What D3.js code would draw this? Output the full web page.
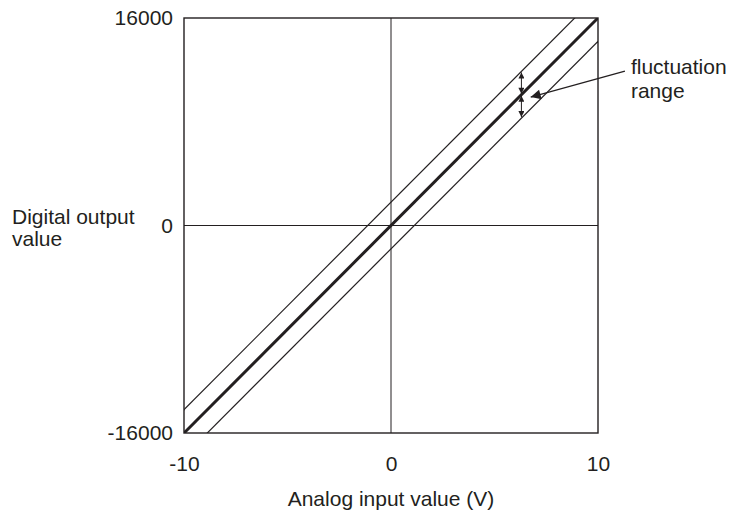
<!DOCTYPE html>
<html>
<head>
<meta charset="utf-8">
<script src="https://cdn.jsdelivr.net/npm/d3@7"></script>
<style>
  body { margin: 0; background: #fff; }
  text { font-family: "Liberation Sans", Arial, sans-serif; fill: #231f20; }
</style>
</head>
<body>
<div id="chart"></div>
<script>
// axis ranges and tick labels
var xDomain = [-10, 10];
var yDomain = [-16000, 16000];
var xTicks = [-10, 0, 10];
var yTicks = [-16000, 0, 16000];

// ideal conversion line: (V, digital)
var idealLine = [[-10, -16000], [10, 16000]];
// width of the fluctuation band (digital value)
var fluctuation = 1800;

// annotation: vertical double arrows at this input voltage
var arrowAt = 6.3;
// callout arrow from label to band (V, digital)
var callout = [[11.3, 11900], [6.75, 9900]];
var calloutLabel = ["fluctuation", "range"];

var W = 730, H = 520;
var margin = { top: 18, right: 132, bottom: 87, left: 184 },
    width = W - margin.left - margin.right,
    height = H - margin.top - margin.bottom;
var fontSize = "21px";

var svg = d3.select("#chart").append("svg")
    .attr("width", W).attr("height", H);

var defs = svg.append("defs");
defs.append("clipPath").attr("id", "clip")
    .append("rect").attr("width", width).attr("height", height);

function marker(id, w, h) {
    defs.append("marker")
        .attr("id", id)
        .attr("viewBox", "0 0 10 10")
        .attr("refX", 10).attr("refY", 5)
        .attr("markerWidth", w).attr("markerHeight", h)
        .attr("markerUnits", "userSpaceOnUse")
        .attr("orient", "auto-start-reverse")
        .append("path").attr("d", "M0,0 L10,5 L0,10 Z").attr("fill", "#231f20");
}
marker("small", 8, 6);
marker("big", 14, 10);

var g = svg.append("g")
    .attr("transform", "translate(" + margin.left + "," + margin.top + ")");

var x = d3.scaleLinear().domain(xDomain).range([0, width]);
var y = d3.scaleLinear().domain(yDomain).range([height, 0]);

// zero cross lines
g.append("line")
    .attr("x1", x(0)).attr("x2", x(0)).attr("y1", 0).attr("y2", height)
    .attr("stroke", "#231f20").attr("stroke-width", 1);
g.append("line")
    .attr("x1", 0).attr("x2", width).attr("y1", y(0)).attr("y2", y(0))
    .attr("stroke", "#231f20").attr("stroke-width", 1);

var line = d3.line()
    .x(function (d) { return x(d[0]); })
    .y(function (d) { return y(d[1]); });

var lines = g.append("g").attr("clip-path", "url(#clip)");

// fluctuation band edges
[fluctuation, -fluctuation].forEach(function (off) {
    // extend beyond the domain so the clip trims them at the frame
    var pts = idealLine.map(function (d) {
        var k = 2;
        return [d[0] * k, d[1] * k + off];
    });
    lines.append("path")
        .attr("d", line(pts))
        .attr("fill", "none")
        .attr("stroke", "#231f20")
        .attr("stroke-width", 1.2);
});

// ideal line
lines.append("path")
    .attr("d", line(idealLine))
    .attr("fill", "none")
    .attr("stroke", "#231f20")
    .attr("stroke-width", 3);

// frame
g.append("rect")
    .attr("width", width).attr("height", height)
    .attr("fill", "none")
    .attr("stroke", "#231f20")
    .attr("stroke-width", 1.4);

// double arrows showing the band
var slope = (idealLine[1][1] - idealLine[0][1]) / (idealLine[1][0] - idealLine[0][0]);
var yc = idealLine[0][1] + slope * (arrowAt - idealLine[0][0]);
[[yc + fluctuation, yc], [yc, yc - fluctuation]].forEach(function (seg) {
    g.append("line")
        .attr("x1", x(arrowAt)).attr("x2", x(arrowAt))
        .attr("y1", y(seg[0]) + 1).attr("y2", y(seg[1]) - 1)
        .attr("stroke", "#231f20").attr("stroke-width", 1)
        .attr("marker-start", "url(#small)")
        .attr("marker-end", "url(#small)");
});

// callout
g.append("line")
    .attr("x1", x(callout[0][0])).attr("y1", y(callout[0][1]))
    .attr("x2", x(callout[1][0])).attr("y2", y(callout[1][1]))
    .attr("stroke", "#231f20").attr("stroke-width", 1.2)
    .attr("marker-end", "url(#big)");

g.selectAll(".callout")
    .data(calloutLabel)
    .enter().append("text")
    .attr("x", x(callout[0][0]) + 6)
    .attr("y", function (d, i) { return y(callout[0][1]) + 3 + i * 24; })
    .style("font-size", fontSize)
    .text(function (d) { return d; });

// axes (labels only), plain hyphen for negatives
var fmt = function (d) { return String(d); };
var xAxis = g.append("g")
    .attr("transform", "translate(0," + height + ")")
    .call(d3.axisBottom(x).tickValues(xTicks).tickSize(0).tickPadding(23).tickFormat(fmt));
var yAxis = g.append("g")
    .call(d3.axisLeft(y).tickValues(yTicks).tickSize(0).tickPadding(11).tickFormat(fmt));
[xAxis, yAxis].forEach(function (a) {
    a.select(".domain").remove();
    a.selectAll("text")
        .style("font-size", fontSize)
        .style("font-family", "Liberation Sans, Arial, sans-serif")
        .attr("fill", "#231f20");
});

// axis titles
svg.append("text")
    .attr("x", margin.left + width / 2)
    .attr("y", 506)
    .attr("text-anchor", "middle")
    .style("font-size", fontSize)
    .text("Analog input value (V)");

svg.selectAll(".ytitle")
    .data(["Digital output", "value"])
    .enter().append("text")
    .attr("x", 12)
    .attr("y", function (d, i) { return 224 + i * 22; })
    .style("font-size", fontSize)
    .text(function (d) { return d; });
</script>
</body>
</html>
